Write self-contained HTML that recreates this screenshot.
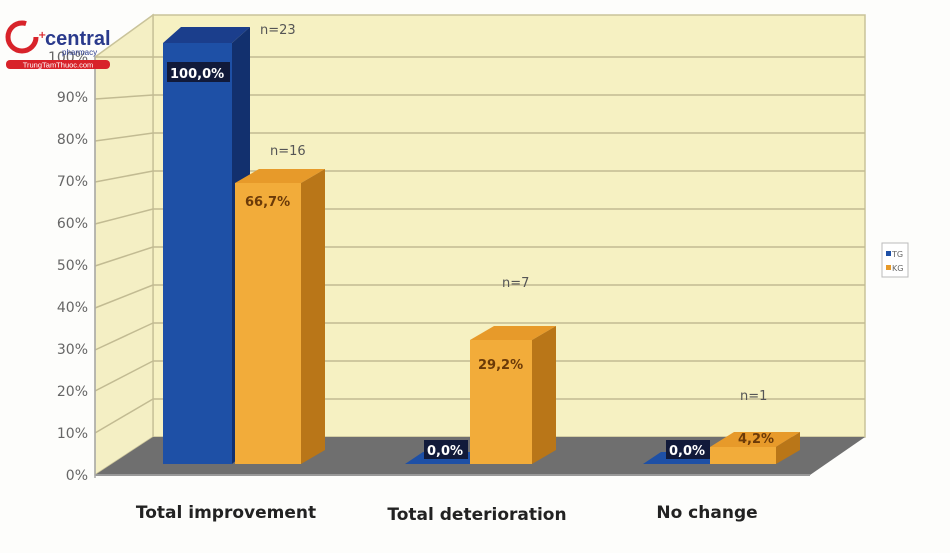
<!DOCTYPE html>
<html><head><meta charset="utf-8"><style>
body{margin:0;background:#fff;}
svg{display:block;font-family:"DejaVu Sans","Liberation Sans",sans-serif;}
</style></head><body>
<svg width="950" height="553" viewBox="0 0 950 553">
<rect width="950" height="553" fill="#fdfdfb"/>
<polygon points="153,15 865,15 865,437 153,437" fill="#f6f1c2" stroke="#c9c39a" stroke-width="1.5"/>
<polygon points="95,57 153,15 153,437 95,475" fill="#f4efc4" stroke="#c9c39a" stroke-width="1.5"/>
<g stroke="#c2bb92" stroke-width="1.5">
<line x1="153" y1="57" x2="865" y2="57"/><line x1="95" y1="57" x2="153" y2="57"/>
<line x1="153" y1="95" x2="865" y2="95"/><line x1="95" y1="99" x2="153" y2="95"/>
<line x1="153" y1="133" x2="865" y2="133"/><line x1="95" y1="141" x2="153" y2="133"/>
<line x1="153" y1="171" x2="865" y2="171"/><line x1="95" y1="182" x2="153" y2="171"/>
<line x1="153" y1="209" x2="865" y2="209"/><line x1="95" y1="224" x2="153" y2="209"/>
<line x1="153" y1="247" x2="865" y2="247"/><line x1="95" y1="266" x2="153" y2="247"/>
<line x1="153" y1="285" x2="865" y2="285"/><line x1="95" y1="308" x2="153" y2="285"/>
<line x1="153" y1="323" x2="865" y2="323"/><line x1="95" y1="350" x2="153" y2="323"/>
<line x1="153" y1="361" x2="865" y2="361"/><line x1="95" y1="391" x2="153" y2="361"/>
<line x1="153" y1="399" x2="865" y2="399"/><line x1="95" y1="433" x2="153" y2="399"/>
</g>
<polygon points="95,475 153,437 865,437 810,475" fill="#6f6f6f"/>
<line x1="95" y1="475" x2="810" y2="475" stroke="#999" stroke-width="2"/>
<line x1="95" y1="57" x2="95" y2="478" stroke="#aaa" stroke-width="1.5"/>
<g font-size="14" fill="#666" text-anchor="end">
<text x="88" y="480">0%</text><text x="88" y="438">10%</text><text x="88" y="396">20%</text>
<text x="88" y="354">30%</text><text x="88" y="312">40%</text><text x="88" y="270">50%</text>
<text x="88" y="228">60%</text><text x="88" y="186">70%</text><text x="88" y="144">80%</text>
<text x="88" y="102">90%</text><text x="88" y="62">100%</text>
</g>
<polygon points="163,43 181,27 250,27 232,43" fill="#1b3e8c"/>
<polygon points="232,43 250,27 250,448 232,464" fill="#12306e"/>
<rect x="163" y="43" width="69" height="421" fill="#1e50a6"/>
<polygon points="235,183 259,169 325,169 301,183" fill="#e79a2a"/>
<polygon points="301,183 325,169 325,450 301,464" fill="#b97618"/>
<rect x="235" y="183" width="66" height="281" fill="#f2ac3a"/>
<polygon points="405,464 423,452 470,452 470,464" fill="#1e50a6"/>
<polygon points="470,340 494,326 556,326 532,340" fill="#e79a2a"/>
<polygon points="532,340 556,326 556,450 532,464" fill="#b97618"/>
<rect x="470" y="340" width="62" height="124" fill="#f2ac3a"/>
<polygon points="643,464 661,452 710,452 710,464" fill="#1e50a6"/>
<polygon points="710,447 734,432 800,432 776,447" fill="#e79a2a"/>
<polygon points="776,447 800,432 800,450 776,464" fill="#b97618"/>
<rect x="710" y="447" width="66" height="17" fill="#f2ac3a"/>
<g font-size="13" font-weight="bold">
<rect x="167" y="62" width="63" height="20" fill="#111a3a"/>
<text x="170" y="78" fill="#fff">100,0%</text>
<text x="245" y="206" fill="#6b3a08">66,7%</text>
<text x="478" y="369" fill="#6b3a08">29,2%</text>
<rect x="424" y="440" width="44" height="19" fill="#111a3a"/>
<text x="427" y="455" fill="#fff">0,0%</text>
<rect x="666" y="440" width="44" height="19" fill="#111a3a"/>
<text x="669" y="455" fill="#fff">0,0%</text>
<text x="738" y="443" fill="#6b3a08">4,2%</text>
</g>
<g font-size="13" fill="#555">
<text x="260" y="34">n=23</text><text x="270" y="155">n=16</text>
<text x="502" y="287">n=7</text><text x="740" y="400">n=1</text>
</g>
<rect x="882" y="243" width="26" height="34" fill="#fff" stroke="#bbb"/>
<rect x="886" y="251" width="5" height="5" fill="#1e50a6"/><text x="892" y="257" font-size="8" fill="#666">TG</text>
<rect x="886" y="265" width="5" height="5" fill="#e79a2a"/><text x="892" y="271" font-size="8" fill="#666">KG</text>
<g font-size="17" font-weight="bold" fill="#222" text-anchor="middle">
<text x="226" y="518">Total improvement</text>
<text x="477" y="520">Total deterioration</text>
<text x="707" y="518">No change</text>
</g>
<circle cx="22" cy="37" r="14" fill="none" stroke="#d8232a" stroke-width="5" stroke-dasharray="70 18"/>
<text x="38" y="38" font-size="10" fill="#d8232a" font-weight="bold">+</text>
<text x="45" y="45" font-size="20" fill="#2a3a8c" font-weight="bold" font-family="Liberation Sans">central</text>
<text x="62" y="55" font-size="8" fill="#2a3a8c" font-family="Liberation Sans">pharmacy</text>
<rect x="6" y="60" width="104" height="9" rx="4" fill="#d8232a"/>
<text x="58" y="67.5" font-size="7.5" fill="#fff" text-anchor="middle" font-family="Liberation Sans">TrungTamThuoc.com</text>
</svg>
</body></html>
